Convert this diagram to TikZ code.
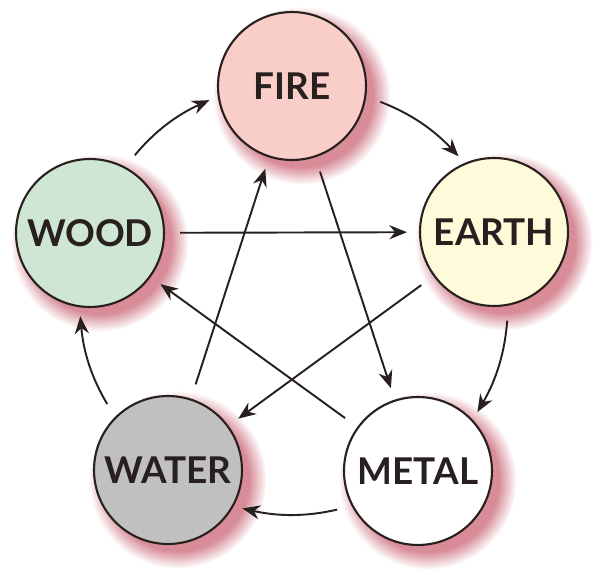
\documentclass[tikz,border=0pt]{standalone}
\usepackage{fontspec}
\setmainfont{Lato}
\usetikzlibrary{arrows.meta,shadows,fadings}
\definecolor{firepink}{RGB}{250,206,200}
\definecolor{woodgreen}{RGB}{208,230,212}
\definecolor{earthcream}{RGB}{255,250,218}
\definecolor{watergrey}{RGB}{192,192,192}
\definecolor{shadowrose}{RGB}{215,140,152}
\definecolor{inkline}{RGB}{40,32,30}
\begin{document}
\begin{tikzpicture}[x=0.02cm, y=-0.02cm,
  element/.style={circle, draw=inkline, line width=1.2pt, minimum size=2.96cm, inner sep=0pt, text=inkline, font=\fontsize{21}{24}\selectfont\bfseries, circular drop shadow={fill=shadowrose, shadow xshift=0.16cm, shadow yshift=-0.16cm, shadow scale=1.2, path fading=circle with fuzzy edge 20 percent}},
  genarrow/.style={line width=1.1pt, draw=inkline, -{Stealth[length=10pt,width=8pt]}, shorten <=0.3cm, shorten >=0.18cm},
  ctrlarrow/.style={genarrow, shorten >=0.24cm}]
\useasboundingbox (0,0) rectangle (600,574);
\node [element, fill=firepink] (fire) at (292,86) {FIRE};
\node [element, fill=woodgreen] (wood) at (90,233) {WOOD};
\node [element, fill=earthcream] (earth) at (494,232) {EARTH};
\node [element, fill=watergrey] (water) at (168,470) {WATER};
\node [element, fill=white] (metal) at (418,471) {METAL};
\draw [genarrow] (wood.62) to [bend left=13] (fire.188);
\draw [genarrow] (fire.352) to [bend left=13] (earth.113);
\draw [genarrow] (earth.281) to [bend left=13] (metal.43);
\draw [genarrow] (metal.208) to [bend left=13] (water.331);
\draw [genarrow] (water.135) to [bend left=13] (wood.262);
\draw [ctrlarrow] (wood) -- (earth);
\draw [ctrlarrow] (earth) -- (water);
\draw [ctrlarrow] (water) -- (fire);
\draw [ctrlarrow] (fire) -- (metal);
\draw [ctrlarrow] (metal) -- (wood);
\end{tikzpicture}
\end{document}
